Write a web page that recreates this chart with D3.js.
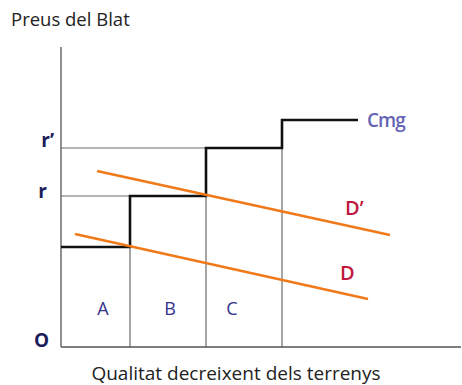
<!DOCTYPE html>
<html>
<head>
<meta charset="utf-8">
<script src="https://cdn.jsdelivr.net/npm/d3@7"></script>
<style>
  body { margin: 0; background: #fff; }
  svg { display: block; }
</style>
</head>
<body>
<div id="chart"></div>
<script>
// Renda diferencial: esglaons del cost marginal (Cmg) i dues demandes (D, D')
const landLabels = ['A', 'B', 'C'];
const landLabelPos = [42, 109, 171];         // posició de l'etiqueta de cada terra
const landBounds = [0, 69, 145, 221];        // límits de les terres en l'eix de qualitat
const cmgSteps = [
  { x0: 0,   x1: 69,  y: 100 },
  { x0: 69,  x1: 145, y: 151 },
  { x0: 145, x1: 221, y: 199 },
  { x0: 221, x1: 297, y: 227 }
];
const demandD  = [{ x: 14, y: 113 }, { x: 307, y: 48 }];
const demandD2 = [{ x: 36, y: 176 }, { x: 329, y: 112 }];
const priceTicks = [
  { label: 'r\u2019', value: 199 },
  { label: 'r', value: 151 }
];

const W = 462, H = 385;
const x = d3.scaleLinear().domain([0, 400]).range([61, 461]);
const y = d3.scaleLinear().domain([0, 300]).range([347, 47]);

const svg = d3.select('#chart').append('svg')
  .attr('width', W).attr('height', H);

const font = "'Open Sans', sans-serif";
const thin = '#6b6b6b';

// Guides: vertical lines at each land boundary
landBounds.slice(1).forEach((b, i) => {
  svg.append('line')
    .attr('x1', x(b)).attr('x2', x(b))
    .attr('y1', y(0)).attr('y2', y(cmgSteps[i].y))
    .attr('stroke', thin).attr('stroke-width', 1.2);
});

// Guides: horizontal lines at prices r and r'
priceTicks.forEach(t => {
  const step = cmgSteps.find(s => s.y === t.value);
  svg.append('line')
    .attr('x1', x(0)).attr('x2', x(step.x0))
    .attr('y1', y(t.value)).attr('y2', y(t.value))
    .attr('stroke', thin).attr('stroke-width', 1.2);
});

// Axes
svg.append('line')
  .attr('x1', x(0)).attr('x2', x(0))
  .attr('y1', y(300)).attr('y2', y(0))
  .attr('stroke', '#555').attr('stroke-width', 1.3);
svg.append('line')
  .attr('x1', x(0)).attr('x2', x(400))
  .attr('y1', y(0)).attr('y2', y(0))
  .attr('stroke', '#555').attr('stroke-width', 1.3);

// Cmg step line
const stepPts = [];
cmgSteps.forEach(s => { stepPts.push([s.x0, s.y]); stepPts.push([s.x1, s.y]); });
svg.append('path')
  .attr('d', d3.line().x(d => x(d[0])).y(d => y(d[1]))(stepPts))
  .attr('fill', 'none').attr('stroke', '#111').attr('stroke-width', 2.6);

// Demand lines
const dLine = d3.line().x(d => x(d.x)).y(d => y(d.y));
[demandD, demandD2].forEach(pts => {
  svg.append('path')
    .attr('d', dLine(pts))
    .attr('fill', 'none').attr('stroke', '#f07a1a').attr('stroke-width', 2.6);
});

// Labels
svg.append('text')
  .attr('x', 11).attr('y', 26)
  .attr('font-family', font).attr('font-size', '18.5px').attr('fill', '#222')
  .text('Preus del Blat');

svg.append('text')
  .attr('x', 236).attr('y', 380)
  .attr('text-anchor', 'middle')
  .attr('font-family', font).attr('font-size', '19px').attr('fill', '#222')
  .text('Qualitat decreixent dels terrenys');

priceTicks.forEach((t, i) => {
  svg.append('text')
    .attr('x', i === 0 ? 54 : 47).attr('y', y(t.value) + (i === 0 ? -1 : 2))
    .attr('text-anchor', 'end')
    .attr('font-family', font).attr('font-size', '19px').attr('font-weight', 700)
    .attr('fill', '#1d1d5c')
    .text(t.label);
});
svg.append('text')
  .attr('x', 34).attr('y', 347)
  .attr('font-family', font).attr('font-size', '19px').attr('font-weight', 700)
  .attr('fill', '#1d1d5c')
  .text('O');

landLabels.forEach((l, i) => {
  svg.append('text')
    .attr('x', x(landLabelPos[i]))
    .attr('y', 315)
    .attr('text-anchor', 'middle')
    .attr('font-family', font).attr('font-size', '18px')
    .attr('fill', '#33338a')
    .text(l);
});

svg.append('text')
  .attr('x', x(306)).attr('y', 127)
  .attr('font-family', font).attr('font-size', '19px').attr('font-weight', 600)
  .attr('letter-spacing', '-1px')
  .attr('fill', '#6464b4')
  .text('Cmg');

svg.append('text')
  .attr('x', x(284)).attr('y', 215)
  .attr('font-family', font).attr('font-size', '20px').attr('font-weight', 600)
  .attr('fill', '#c0163e')
  .text('D\u2019');
svg.append('text')
  .attr('x', x(279)).attr('y', 280)
  .attr('font-family', font).attr('font-size', '20px').attr('font-weight', 600)
  .attr('fill', '#c0163e')
  .text('D');
</script>
</body>
</html>
